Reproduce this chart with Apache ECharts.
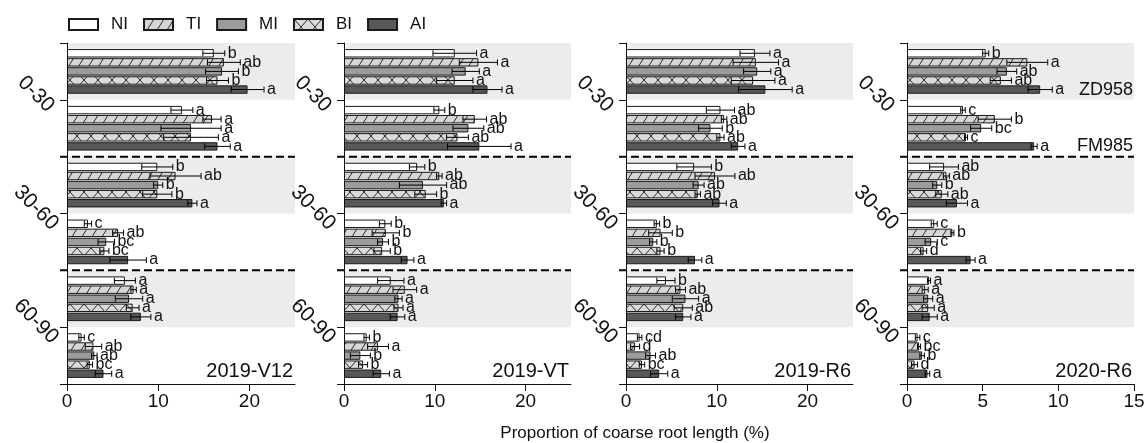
<!DOCTYPE html>
<html>
<head>
<meta charset="utf-8">
<script src="https://cdn.jsdelivr.net/npm/echarts@6/dist/echarts.min.js"></script>
<style>
  html, body { margin: 0; padding: 0; background: #fff; }
  #chart { width: 1147px; height: 443px; }
</style>
</head>
<body>
<div id="chart"></div>
<script>
// ---- data ----------------------------------------------------------------
const treatments = ['NI', 'TI', 'MI', 'BI', 'AI'];
const depths = ['0-30', '30-60', '60-90'];
const cultivars = ['ZD958', 'FM985'];
const panelNames = ['2019-V12', '2019-VT', '2019-R6', '2020-R6'];
const xMax = [25, 25, 25, 15];
const xTicks = [[0, 10, 20], [0, 10, 20], [0, 10, 20], [0, 5, 10, 15]];
const axisTitle = 'Proportion of coarse root length (%)';

// rows: NI, TI, MI, BI, AI
// columns: 0-30 ZD958, 0-30 FM985, 30-60 ZD958, 30-60 FM985, 60-90 ZD958, 60-90 FM985
const meanV12 = [
  [16.1, 12.6, 9.9, 2.3, 6.35, 1.6],
  [17.2, 15.9, 11.9, 5.6, 7.3, 2.9],
  [17.0, 13.6, 10.0, 4.3, 6.8, 3.0],
  [16.5, 13.6, 9.9, 4.1, 7.2, 2.5],
  [19.8, 16.5, 13.75, 6.7, 8.1, 4.0]
];
const sdV12 = [
  [1.2, 1.2, 1.7, 0.4, 1.15, 0.3],
  [1.8, 1.0, 2.8, 0.6, 0.3, 0.9],
  [1.8, 3.3, 0.5, 0.9, 1.5, 0.3],
  [1.2, 3.0, 1.6, 0.5, 0.7, 0.3],
  [1.8, 1.4, 0.5, 2.0, 1.1, 0.9]
];
const letV12 = [
  ['b', 'a', 'b', 'c', 'a', 'c'],
  ['ab', 'a', 'ab', 'ab', 'a', 'ab'],
  ['b', 'a', 'b', 'bc', 'a', 'ab'],
  ['b', 'a', 'b', 'bc', 'a', 'bc'],
  ['a', 'a', 'a', 'a', 'a', 'a']
];

const meanVT = [
  [12.2, 10.5, 8.05, 4.55, 5.15, 2.5],
  [14.8, 14.4, 10.5, 4.6, 6.7, 3.75],
  [13.4, 13.7, 8.7, 4.3, 6.0, 1.8],
  [12.2, 12.5, 9.0, 4.2, 6.0, 2.1],
  [15.8, 14.9, 11.0, 7.0, 5.9, 4.1]
];
const sdVT = [
  [2.4, 0.6, 0.85, 0.65, 1.45, 0.3],
  [2.1, 1.3, 0.3, 1.5, 1.3, 1.15],
  [1.5, 1.7, 2.6, 0.6, 0.4, 1.1],
  [2.0, 1.2, 1.2, 0.9, 0.5, 0.5],
  [1.6, 3.5, 0.3, 0.7, 0.8, 0.9]
];
const letVT = [
  ['a', 'b', 'b', 'b', 'a', 'b'],
  ['a', 'ab', 'ab', 'b', 'a', 'a'],
  ['a', 'ab', 'ab', 'b', 'a', 'b'],
  ['a', 'ab', 'b', 'b', 'a', 'b'],
  ['a', 'a', 'a', 'a', 'a', 'a']
];

const meanR6 = [
  [14.2, 10.4, 7.5, 3.4, 4.4, 1.5],
  [14.3, 10.8, 9.8, 3.8, 6.0, 1.0],
  [14.45, 9.3, 8.0, 3.0, 6.55, 2.7],
  [14.0, 10.4, 7.9, 3.8, 6.3, 1.76],
  [15.35, 12.35, 10.3, 7.6, 6.3, 3.65]
];
const sdR6 = [
  [1.65, 1.55, 1.9, 0.3, 1.0, 0.25],
  [2.5, 0.3, 2.2, 1.3, 0.55, 0.5],
  [1.5, 1.3, 0.6, 0.4, 1.45, 0.55],
  [2.4, 0.4, 0.3, 0.4, 1.0, 0.3],
  [2.95, 0.75, 0.75, 0.75, 0.85, 0.95]
];
const letR6 = [
  ['a', 'ab', 'b', 'b', 'b', 'cd'],
  ['a', 'ab', 'ab', 'b', 'ab', 'd'],
  ['a', 'b', 'ab', 'b', 'a', 'ab'],
  ['a', 'ab', 'ab', 'b', 'ab', 'bc'],
  ['a', 'a', 'a', 'a', 'a', 'a']
];

const meanR6b = [
  [5.2, 3.7, 2.45, 1.8, 1.45, 0.7],
  [7.95, 5.8, 2.6, 3.0, 1.2, 0.8],
  [6.6, 4.9, 2.0, 1.6, 1.4, 1.0],
  [6.2, 3.9, 2.3, 1.1, 1.4, 0.5],
  [8.8, 8.4, 3.3, 4.2, 1.5, 1.35]
];
const sdR6b = [
  [0.2, 0.15, 0.95, 0.2, 0.1, 0.15],
  [1.35, 1.1, 0.2, 0.1, 0.2, 0.1],
  [0.65, 0.7, 0.3, 0.4, 0.3, 0.15],
  [0.7, 0.1, 0.4, 0.2, 0.4, 0.2],
  [0.8, 0.2, 0.7, 0.3, 0.5, 0.15]
];
const letR6b = [
  ['b', 'c', 'ab', 'c', 'a', 'c'],
  ['a', 'b', 'ab', 'b', 'a', 'bc'],
  ['ab', 'bc', 'b', 'c', 'a', 'b'],
  ['ab', 'c', 'ab', 'd', 'a', 'd'],
  ['a', 'a', 'a', 'a', 'a', 'a']
];

const panelMeans = [meanV12, meanVT, meanR6, meanR6b];
const panelSds = [sdV12, sdVT, sdR6, sdR6b];
const panelLetters = [letV12, letVT, letR6, letR6b];

// ---- styling ---------------------------------------------------------------
const FONT = '"Liberation Sans", Arial, sans-serif';
const INK = '#111';
const BAR_W = 8.4;
const BAR_GAP = 0.08;
const STEP = BAR_W * (1 + BAR_GAP);
const gridLeft = [67, 344, 626, 907];
const gridWidth = [228, 227, 227, 227];
const GRID_TOP = 43;
const GRID_H = 341;

function tile(w, h, bg, draw) {
  const c = document.createElement('canvas');
  c.width = w; c.height = h;
  const g = c.getContext('2d');
  g.fillStyle = bg; g.fillRect(0, 0, w, h);
  g.strokeStyle = '#2a2a2a'; g.lineWidth = 1;
  draw(g);
  return { image: c, repeat: 'repeat' };
}
// forward slashes
const slashFill = tile(10, 16, '#d6d6d6', g => {
  g.beginPath();
  for (let o = -10; o <= 10; o += 10) { g.moveTo(o, 16); g.lineTo(o + 10, 0); }
  g.stroke();
});
// cross hatch
const crossFill = tile(14, 16, '#dadada', g => {
  g.beginPath();
  for (let o = -14; o <= 14; o += 14) {
    g.moveTo(o, 0); g.lineTo(o + 14, 16);
    g.moveTo(o, 16); g.lineTo(o + 14, 0);
  }
  g.stroke();
});
const fills = ['#ffffff', slashFill, '#9c9c9c', crossFill, '#585858'];

const groupNames = [];
depths.forEach(d => cultivars.forEach(c => groupNames.push(d + ' ' + c)));

// ---- build -------------------------------------------------------------
const grid = [], xAxis = [], yAxis = [], series = [];

panelNames.forEach((name, p) => {
  grid.push({ left: gridLeft[p], top: GRID_TOP, width: gridWidth[p], height: GRID_H,
              outerBoundsMode: 'none', containLabel: false });

  xAxis.push({
    type: 'value', gridIndex: p, min: 0, max: xMax[p], position: 'bottom', z: 10,
    axisLine: { show: true, onZero: false, lineStyle: { color: INK, width: 1 } },
    axisTick: { show: true, length: 7, customValues: xTicks[p], lineStyle: { color: INK } },
    axisLabel: { customValues: xTicks[p], fontSize: 19, color: INK, fontFamily: FONT, margin: 8 },
    splitLine: { show: false }
  });

  // band axis used by the bars
  yAxis.push({ type: 'category', gridIndex: p, position: 'left', data: groupNames, inverse: true,
               show: false, axisLine: { onZero: false } });
  // visible depth axis: ticks at layer borders, labels at the layer middles
  yAxis.push({
    type: 'value', gridIndex: p, position: 'left', offset: 0, z: 10,
    min: 0, max: groupNames.length, interval: 1, inverse: true,
    axisLine: { show: true, onZero: false, lineStyle: { color: INK, width: 1 } },
    axisTick: { show: true, length: 7, lineStyle: { color: INK } },
    axisLabel: {
      customValues: depths.map((d, i) => i * 2 + 0.9),
      formatter: v => depths[Math.round((v - 0.9) / 2)],
      rotate: -45, align: 'center', verticalAlign: 'middle',
      margin: 31, fontSize: 21, color: INK, fontFamily: FONT
    },
    splitLine: { show: false }
  });

  const catY = 2 * p, depY = 2 * p + 1;

  // shaded bands behind the ZD958 groups
  series.push({
    type: 'custom', xAxisIndex: p, yAxisIndex: catY, z: 1, silent: true,
    data: groupNames.map((g, i) => [0, i]).filter((d, i) => i % cultivars.length === 0),
    encode: { x: 0, y: 1 },
    renderItem(params, api) {
      const cs = params.coordSys;
      const yc = api.coord([0, api.value(1)])[1];
      const h = api.size([0, 1])[1];
      return { type: 'rect', shape: { x: cs.x, y: yc - h / 2, width: cs.width, height: h },
               style: { fill: '#ececec' } };
    }
  });

  // dashed borders between soil layers
  series.push({
    type: 'custom', xAxisIndex: p, yAxisIndex: depY, z: 2, silent: true,
    data: depths.slice(1).map((d, i) => [0, (i + 1) * cultivars.length]),
    encode: { x: 0, y: 1 },
    renderItem(params, api) {
      const cs = params.coordSys;
      const y = api.coord([0, api.value(1)])[1];
      return { type: 'line', shape: { x1: cs.x - 7, y1: y, x2: cs.x + cs.width, y2: y },
               style: { stroke: '#000', lineWidth: 2, lineDash: [8, 4] } };
    }
  });

  // bars
  treatments.forEach((t, k) => {
    series.push({
      type: 'bar', name: t, xAxisIndex: p, yAxisIndex: catY, z: 3,
      barWidth: BAR_W, barGap: (BAR_GAP * 100) + '%',
      itemStyle: { color: fills[k], borderColor: '#1a1a1a', borderWidth: 1 },
      data: panelMeans[p][k]
    });
  });

  // error bars with significance letters
  const errData = [], errLetters = [];
  panelMeans[p].forEach((row, k) => row.forEach((m, g) => {
    errData.push([m, g, panelSds[p][k][g], k]);
    errLetters.push(panelLetters[p][k][g]);
  }));
  series.push({
    type: 'custom', xAxisIndex: p, yAxisIndex: catY, z: 5, silent: true,
    data: errData, encode: { x: 0, y: 1 },
    renderItem(params, api) {
      const m = api.value(0), g = api.value(1), sd = api.value(2), k = api.value(3);
      const y = api.coord([m, g])[1] + (k - (treatments.length - 1) / 2) * STEP;
      const x1 = api.coord([m - sd, g])[0];
      const x2 = api.coord([m + sd, g])[0];
      const cap = 3;
      const ln = { stroke: '#000', lineWidth: 1 };
      return {
        type: 'group',
        children: [
          { type: 'line', shape: { x1: x1, y1: y, x2: x2, y2: y }, style: ln },
          { type: 'line', shape: { x1: x1, y1: y - cap, x2: x1, y2: y + cap }, style: ln },
          { type: 'line', shape: { x1: x2, y1: y - cap, x2: x2, y2: y + cap }, style: ln },
          { type: 'text', x: x2 + 3, y: y,
            style: { text: errLetters[params.dataIndex], fill: INK, fontSize: 16, fontFamily: FONT,
                     align: 'left', verticalAlign: 'middle' } }
        ]
      };
    }
  });
});

// cultivar names beside the first soil layer of the last panel
const lastP = panelNames.length - 1;
series.push({
  type: 'custom', xAxisIndex: lastP, yAxisIndex: 2 * lastP, z: 6, silent: true,
  data: cultivars.map((c, i) => [0, i]), encode: { x: 0, y: 1 },
  renderItem(params, api) {
    const cs = params.coordSys;
    const y = api.coord([0, api.value(1)])[1] + 2 * STEP;
    return { type: 'text', x: cs.x + cs.width - 1, y: y,
             style: { text: cultivars[params.dataIndex], fill: INK, fontSize: 18, fontFamily: FONT,
                      align: 'right', verticalAlign: 'middle' } };
  }
});

const graphic = panelNames.map((name, p) => ({
  type: 'text', x: gridLeft[p] + gridWidth[p] - 2, y: 371,
  style: { text: name, fill: INK, fontSize: 20, fontFamily: FONT, align: 'right', verticalAlign: 'middle' }
}));
graphic.push({
  type: 'text', x: 635, y: 433,
  style: { text: axisTitle, fill: INK, fontSize: 17, fontFamily: FONT, align: 'center', verticalAlign: 'middle' }
});

const chart = echarts.init(document.getElementById('chart'), null, { renderer: 'canvas' });
chart.setOption({
  animation: false,
  backgroundColor: '#fff',
  textStyle: { fontFamily: FONT },
  legend: {
    data: treatments, left: 68, top: 16, padding: 0, icon: 'rect',
    itemWidth: 29, itemHeight: 11, itemGap: 15, selectedMode: false,
    textStyle: { fontSize: 17, color: INK, fontFamily: FONT, padding: [0, 0, 0, 8] }
  },
  grid, xAxis, yAxis, series, graphic
});
</script>
</body>
</html>
